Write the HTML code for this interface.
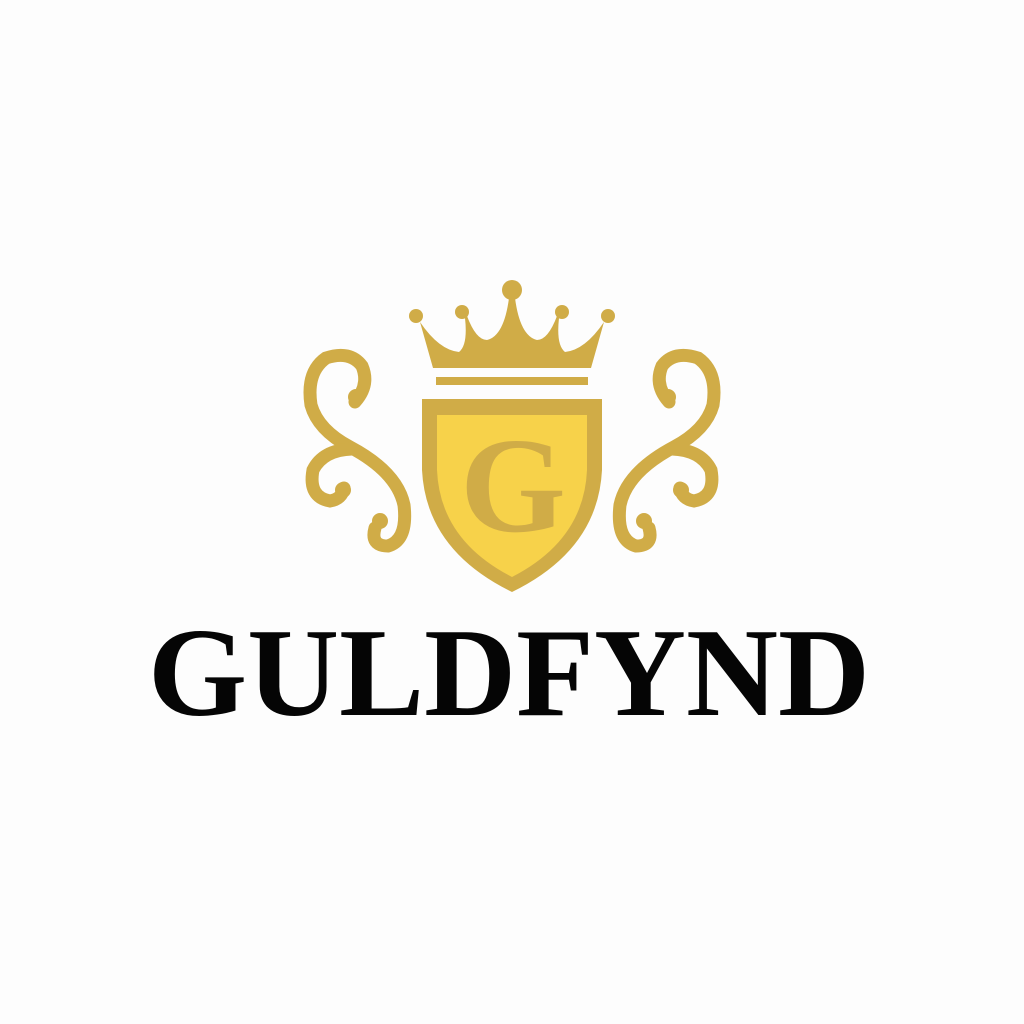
<!DOCTYPE html>
<html><head><meta charset="utf-8"><style>
html,body{margin:0;padding:0;background:#fdfdfd;}
svg{display:block}
</style></head><body>
<svg width="1024" height="1024" viewBox="0 0 1024 1024">
<rect width="1024" height="1024" fill="#fdfdfd"/>
<g fill="#d0ac47" stroke="none">
<path d="M420,322 L433,368 L591,368 L604,322 Q585,350 565,352 Q556,345 559,318 L557,316 Q548,340 537,340 Q520,336 515,298 L509,298 Q504,336 487,340 Q476,340 467,316 L465,318 Q468,345 459,352 Q439,350 420,322 Z"/>
<circle cx="416" cy="316" r="7"/><circle cx="462" cy="312" r="7"/><circle cx="512" cy="290" r="10"/><circle cx="562" cy="312" r="7"/><circle cx="608" cy="316" r="7"/>
<rect x="436" y="377" width="152" height="8"/>
</g>
<g>
<path d="M422,399 L602,399 L602,470 Q598,550 512,592 Q426,550 422,470 Z" fill="#d0ac47"/>
<path d="M437,415 L587,415 L587,470 Q584,540 512,577 Q440,540 437,470 Z" fill="#f7d24a"/>
<text x="513" y="531" text-anchor="middle" font-family="Liberation Serif, serif" font-weight="bold" font-size="136" fill="#d0ac47">G</text>
</g>
<g fill="none" stroke="#d0ac47" stroke-width="13" stroke-linecap="round">
<path d="M355,402 Q370,385 362,366 Q350,350 326,358 Q306,372 311,405 Q318,430 350,447 Q397,472 404,505 Q408,540 388,546 Q370,546 375,528"/>
<path d="M352,449 Q323,450 313,470 Q308,497 330,501 Q342,499 344,488"/>
<circle cx="356" cy="397" r="8" fill="#d0ac47" stroke="none"/>
<circle cx="343" cy="490" r="8" fill="#d0ac47" stroke="none"/>
<circle cx="380" cy="521" r="8" fill="#d0ac47" stroke="none"/>
</g>
<g transform="translate(1024,0) scale(-1,1)" fill="none" stroke="#d0ac47" stroke-width="13" stroke-linecap="round">
<path d="M355,402 Q370,385 362,366 Q350,350 326,358 Q306,372 311,405 Q318,430 350,447 Q397,472 404,505 Q408,540 388,546 Q370,546 375,528"/>
<path d="M352,449 Q323,450 313,470 Q308,497 330,501 Q342,499 344,488"/>
<circle cx="356" cy="397" r="8" fill="#d0ac47" stroke="none"/>
<circle cx="343" cy="490" r="8" fill="#d0ac47" stroke="none"/>
<circle cx="380" cy="521" r="8" fill="#d0ac47" stroke="none"/>
</g>
<text x="148" y="715" textLength="722" lengthAdjust="spacingAndGlyphs" font-family="Liberation Serif, serif" font-weight="bold" font-size="126" fill="#050505">GULDFYND</text>
</svg>
</body></html>
